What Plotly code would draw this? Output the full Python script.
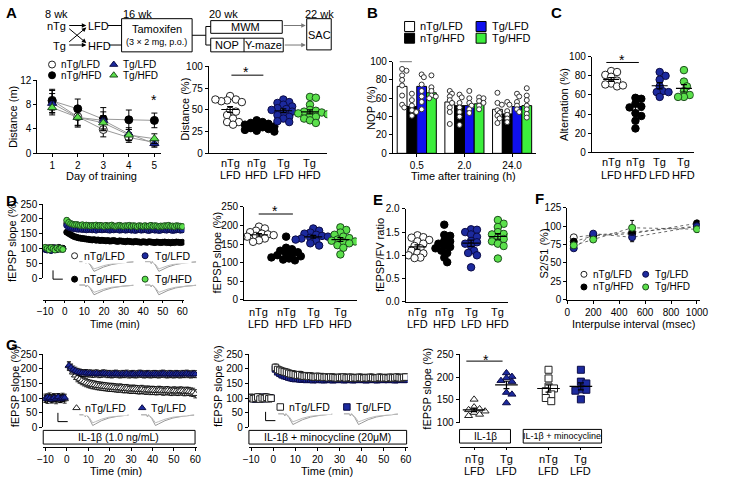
import numpy as np
import plotly.graph_objects as go

W, H = 734, 492
FONT = "Liberation Sans, Arial, sans-serif"

# ---------------- data ----------------
groups = ["nTg/LFD", "nTg/HFD", "Tg/LFD", "Tg/HFD"]
cat_top = ["nTg", "nTg", "Tg", "Tg"]
cat_bottom = ["LFD", "HFD", "LFD", "HFD"]

# A: water maze distance per day
days = [1, 2, 3, 4, 5]
mwm_ntg_lfd = [8.7, 6.0, 3.9, 2.6, 1.8]
mwm_ntg_hfd = [8.6, 7.3, 5.6, 5.5, 5.4]
mwm_tg_lfd = [8.2, 5.9, 5.4, 3.2, 1.6]
mwm_tg_hfd = [7.5, 5.9, 5.0, 3.0, 2.4]
mwm_err_ntg_lfd = [1.6, 1.4, 1.2, 0.8, 0.6]
mwm_err_ntg_hfd = [1.9, 1.6, 1.9, 1.6, 1.2]
mwm_err_tg_lfd = [1.6, 1.4, 1.4, 1.0, 0.6]
mwm_err_tg_hfd = [1.2, 1.6, 1.2, 0.9, 0.8]

# A: distance in target quadrant (%)
quad_ntg_lfd = [66, 62, 61, 60, 59, 62, 49, 48, 44, 40, 36, 36, 33]
quad_ntg_hfd = [38, 36, 35, 34, 33, 32, 31, 30, 29, 28, 27, 26, 25]
quad_tg_lfd = [62, 59, 58, 56, 54, 52, 51, 50, 48, 46, 44, 42, 40, 37, 36]
quad_tg_hfd = [65, 64, 56, 50, 49, 48, 47, 46, 45, 44, 42, 40, 38, 35]

# B: novel object preference
nop_times = ["0.5", "2.0", "24.0"]
nop_mean_ntg_lfd = [73, 56, 48]
nop_mean_ntg_hfd = [51, 52, 43]
nop_mean_tg_lfd = [73, 52, 51]
nop_mean_tg_hfd = [66, 54, 52]
nop_pts_ntg_lfd = [[92, 90, 85, 80, 74, 63, 53, 50], [68, 65, 62, 58, 55, 50, 45, 32], [66, 55, 53, 47, 44, 41, 38, 33]]
nop_pts_ntg_hfd = [[65, 58, 52, 47, 45, 41], [64, 61, 55, 50, 45, 40, 31], [56, 53, 46, 42, 38, 34]]
nop_pts_tg_lfd = [[86, 83, 75, 68, 62, 56, 48], [68, 60, 55, 52, 48, 44], [65, 62, 56, 52, 48, 45]]
nop_pts_tg_hfd = [[85, 72, 68, 63, 62, 60], [61, 60, 57, 55, 52, 48], [71, 63, 58, 52, 48, 43, 39]]

# C: Y-maze alternation
alt_ntg_lfd = [85, 84, 81, 79, 75, 72, 71, 69, 70]
alt_ntg_hfd = [57, 56, 51, 48, 47, 41, 38, 33, 25]
alt_tg_lfd = [84, 80, 76, 69, 64, 63, 63, 58]
alt_tg_hfd = [86, 74, 69, 64, 60, 58, 58]

# D: LTP time course (one value per minute)
t_min = list(range(-10, 0)) + list(range(1, 61))
ltp_ntg_lfd = [
    100, 98, 103, 101, 97, 102, 99, 104, 98, 100,
    185, 180, 178, 176, 175, 176, 174, 175, 173, 174,
    172, 173, 174, 172, 171, 173, 172, 170, 171, 172,
    173, 171, 170, 172, 171, 170, 169, 171, 170, 172,
    171, 169, 170, 171, 170, 169, 171, 170, 168, 170,
    171, 169, 170, 168, 169, 170, 171, 169, 168, 170,
    169, 170, 168, 169, 170, 171, 169, 168, 170, 169,
]
ltp_ntg_hfd = [
    99, 101, 97, 100, 103, 98, 100, 102, 99, 101,
    155, 151, 147, 143, 140, 138, 136, 135, 134, 133,
    132, 131, 130, 129, 130, 128, 129, 127, 128, 127,
    126, 127, 125, 126, 127, 125, 124, 126, 125, 124,
    123, 125, 124, 123, 122, 124, 123, 122, 121, 123,
    122, 121, 123, 122, 121, 120, 122, 121, 120, 121,
    122, 120, 121, 119, 121, 120, 122, 121, 120, 121,
]
ltp_tg_lfd = [
    97, 95, 100, 93, 98, 102, 96, 99, 101, 98,
    178, 172, 170, 168, 167, 166, 165, 166, 164, 165,
    163, 164, 165, 163, 164, 162, 165, 164, 163, 164,
    165, 163, 162, 164, 163, 165, 164, 162, 163, 164,
    162, 163, 164, 162, 163, 161, 163, 164, 162, 163,
    164, 162, 161, 163, 164, 162, 163, 161, 162, 164,
    163, 162, 164, 163, 161, 162, 163, 164, 162, 163,
]
ltp_tg_hfd = [
    104, 100, 96, 103, 99, 95, 102, 98, 101, 97,
    195, 188, 184, 182, 180, 181, 179, 178, 180, 177,
    179, 178, 176, 178, 177, 179, 176, 178, 177, 175,
    178, 176, 177, 179, 176, 175, 177, 178, 176, 175,
    177, 176, 178, 175, 177, 176, 174, 177, 176, 175,
    177, 175, 176, 178, 175, 177, 176, 174, 176, 175,
    177, 176, 178, 175, 176, 174, 177, 176, 175, 174,
]

# D: LTP magnitude per slice
ltp_bar_ntg_lfd = [197, 192, 186, 182, 178, 176, 174, 172, 170, 168, 165, 160, 156]
ltp_bar_ntg_hfd = [170, 140, 136, 132, 128, 124, 122, 120, 117, 114, 111, 108, 106]
ltp_bar_tg_lfd = [192, 186, 181, 178, 175, 172, 170, 167, 165, 162, 158, 152, 146]
ltp_bar_tg_hfd = [195, 188, 181, 175, 170, 166, 162, 159, 157, 155, 152, 147, 140, 122]

# E: fEPSP/FV ratio
fv_ntg_lfd = [1.43, 1.39, 1.38, 1.33, 1.30, 1.25, 1.20, 1.15, 1.10, 1.05, 1.04, 1.00, 0.95, 0.94]
fv_ntg_hfd = [1.66, 1.44, 1.42, 1.31, 1.30, 1.25, 1.20, 1.18, 1.15, 1.10, 1.05, 0.95, 0.85]
fv_tg_lfd = [1.56, 1.55, 1.50, 1.45, 1.40, 1.31, 1.28, 1.25, 1.20, 1.10, 1.05, 1.00, 0.74]
fv_tg_hfd = [1.76, 1.68, 1.61, 1.50, 1.46, 1.45, 1.40, 1.38, 1.35, 1.30, 1.25, 1.20, 0.93]

# F: paired-pulse ratio
ipi = [50, 200, 500, 1000]
ppr_ntg_lfd = [85, 88, 92, 100]
ppr_ntg_hfd = [79, 87, 90, 104]
ppr_tg_lfd = [70, 90, 85, 100]
ppr_tg_hfd = [74, 82, 98, 96]
ppr_err_ntg_lfd = [3, 3, 4, 3]
ppr_err_ntg_hfd = [4, 3, 5, 3]
ppr_err_tg_lfd = [3, 3, 6, 4]
ppr_err_tg_hfd = [4, 3, 10, 4]

# G: IL-1b time courses
il_ntg_lfd = [
    100, 96, 104, 98, 102, 95, 101, 99, 103, 97,
    210, 200, 188, 178, 170, 165, 160, 156, 153, 150,
    148, 146, 145, 143, 142, 141, 140, 139, 138, 137,
    137, 136, 135, 134, 135, 133, 132, 133, 131, 130,
    131, 130, 129, 128, 130, 128, 127, 128, 126, 127,
    126, 125, 127, 126, 124, 125, 126, 124, 123, 125,
    124, 123, 125, 124, 122, 124, 123, 121, 120, 115,
]
il_tg_lfd = [
    98, 103, 100, 96, 101, 99, 104, 97, 100, 102,
    212, 205, 198, 194, 190, 188, 186, 185, 186, 184,
    185, 183, 184, 185, 182, 183, 185, 184, 182, 183,
    181, 183, 184, 182, 181, 183, 182, 184, 181, 182,
    183, 181, 182, 184, 183, 181, 182, 183, 181, 182,
    183, 182, 181, 183, 184, 182, 181, 183, 182, 181,
    183, 182, 181, 183, 182, 184, 182, 181, 183, 182,
]
mino_ntg_lfd = [
    102, 98, 100, 104, 97, 101, 99, 103, 98, 100,
    205, 198, 195, 192, 190, 188, 185, 183, 182, 180,
    178, 180, 177, 175, 176, 174, 175, 173, 172, 174,
    172, 173, 171, 172, 170, 172, 171, 170, 169, 171,
    170, 172, 169, 170, 171, 168, 170, 169, 171, 170,
    168, 170, 169, 171, 170, 168, 169, 171, 170, 169,
    170, 168, 171, 169, 170, 172, 170, 169, 171, 172,
]
mino_tg_lfd = [
    99, 101, 97, 100, 102, 98, 103, 99, 101, 100,
    200, 190, 185, 180, 177, 175, 172, 170, 168, 167,
    168, 166, 165, 167, 164, 166, 165, 163, 165, 164,
    166, 164, 163, 165, 166, 164, 163, 165, 164, 166,
    165, 163, 164, 166, 165, 163, 164, 165, 166, 164,
    165, 163, 164, 166, 165, 164, 163, 165, 166, 164,
    165, 164, 166, 165, 163, 164, 166, 165, 164, 165,
]

# G: LTP magnitude with IL-1b / minocycline
il_bar_ntg = [151, 134, 130, 128, 125, 122, 118, 115]
il_bar_tg = [209, 201, 198, 192, 190, 166, 162, 143]
mino_bar_ntg = [216, 197, 179, 175, 169, 162, 154, 147]
mino_bar_tg = [216, 190, 186, 173, 172, 170, 151]
g_top = ["nTg", "Tg", "nTg", "Tg"]
g_bottom = ["LFD", "LFD", "LFD", "LFD"]

# ---------------- styles ----------------
BLUE = "#1c2a9e"
GREEN = "#5be04b"
STY = {
    "nTg/LFD": dict(color="white", line=dict(color="#222222", width=1)),
    "nTg/HFD": dict(color="black", line=dict(color="black", width=1)),
    "Tg/LFD": dict(color=BLUE, line=dict(color="#0b0b45", width=1)),
    "Tg/HFD": dict(color=GREEN, line=dict(color="#1d4d1d", width=1)),
}


def mk(name, size, symbol="circle"):
    d = dict(STY[name])
    d.update(size=size, symbol=symbol)
    return d


fig = go.Figure()
layout = {}
shapes = []
annots = []

AX = dict(showline=True, linecolor="black", linewidth=1, ticks="outside", ticklen=3,
          tickwidth=1, tickcolor="black", showgrid=False, zeroline=False,
          tickfont=dict(size=10, color="black"), fixedrange=True)


def add_axes(n, x0, x1, y0, y1, xr, yr, xkw=None, ykw=None, free_x=None):
    s = "" if n == 1 else str(n)
    xa = dict(AX, domain=[x0 / W, x1 / W], range=xr, anchor="y" + s)
    if free_x is not None:
        xa.update(anchor="free", position=1 - free_x / H)
    ya = dict(AX, domain=[1 - y1 / H, 1 - y0 / H], range=yr, anchor="x" + s)
    xa.update(xkw or {})
    ya.update(ykw or {})
    layout["xaxis" + s] = xa
    layout["yaxis" + s] = ya
    return "x" + s, "y" + s


def text(x, y, t, size=11, xref="x12", **kw):
    annots.append(dict(x=x, y=y, xref=xref, yref="y12", text=t, showarrow=False,
                       font=dict(size=size, color="black", family=FONT), **kw))


def cat_text(xa, pos, top, bottom, y1, y2, size=11):
    for p, a, b in zip(pos, top, bottom):
        text(p, y1, a, size=size, xref=xa)
        text(p, y2, b, size=size, xref=xa)


def seg(x0, y0, x1, y1, color="black", width=1, ref=("x12", "y12")):
    shapes.append(dict(type="line", xref=ref[0], yref=ref[1], x0=x0, y0=y0, x1=x1, y1=y1,
                       line=dict(color=color, width=width)))


def rect(x0, y0, x1, y1):
    shapes.append(dict(type="rect", xref="x12", yref="y12", x0=x0, y0=y0, x1=x1, y1=y1,
                       line=dict(color="black", width=1)))


def arrow(x0, y0, x1, y1, color="black"):
    annots.append(dict(x=x1, y=y1, ax=x0, ay=y0, xref="x12", yref="y12", axref="x12", ayref="y12",
                       text="", showarrow=True, arrowhead=2, arrowsize=0.9, arrowwidth=1, arrowcolor=color))


def star(xref, yref, x, y):
    annots.append(dict(x=x, y=y, xref=xref, yref=yref, text="*", showarrow=False, yshift=-3,
                       font=dict(size=14, color="black", family=FONT)))


def swarm(vals, ux, uy, d, gap=0.68, step=0.4):
    placed, offs = [], []
    steps = [0]
    for i in range(1, 20):
        steps += [i, -i]
    for v in vals:
        y = v * uy
        x = 0
        for k in steps:
            x = k * d * step
            if all((x - a) ** 2 + (y - b) ** 2 >= (gap * d) ** 2 for a, b in placed):
                break
        placed.append((x, y))
        offs.append(x / ux)
    return offs


def dots(xa, ya, sets, names, pos, ux, uy, d=7.5, half=0.33, symbols=None):
    for i, vals in enumerate(sets):
        sym = symbols[i] if symbols else "circle"
        offs = swarm(vals, ux, uy, d)
        fig.add_trace(go.Scatter(x=[pos[i] + o for o in offs], y=vals, mode="markers",
                                 marker=mk(names[i], d, sym), xaxis=xa, yaxis=ya))
        m = float(np.mean(vals))
        se = float(np.std(vals, ddof=1) / np.sqrt(len(vals)))
        fig.add_trace(go.Scatter(x=[pos[i] - half, pos[i] + half], y=[m, m], mode="lines",
                                 line=dict(color="black", width=1.2), xaxis=xa, yaxis=ya))
        fig.add_trace(go.Scatter(x=[pos[i]], y=[m], mode="markers", marker=dict(size=1, opacity=0),
                                 error_y=dict(type="data", array=[se], color="black", thickness=1.2, width=3),
                                 xaxis=xa, yaxis=ya))


def course(xa, ya, x, y, name, symbol, size, err, up=True, down=True, line=None):
    ey = dict(type="data", symmetric=False, array=[err if up else 0] * len(y),
              arrayminus=[err if down else 0] * len(y), color="black", thickness=0.8, width=2)
    fig.add_trace(go.Scatter(x=x, y=y, mode="markers+lines" if line else "markers",
                             line=line, marker=mk(name, size, symbol), error_y=ey, xaxis=xa, yaxis=ya))


def wave(x0, y0, w, h):
    fx = [0, 0.1, 0.12, 0.14, 0.2, 0.27, 0.33, 0.45, 0.6, 0.8, 1.0]
    fy = [0, 0, 0.2, 0, 0.35, 1.0, 0.85, 0.55, 0.3, 0.12, 0.03]
    for k, c in ((1.0, "#999999"), (0.75, "#bbbbbb")):
        fig.add_trace(go.Scatter(x=[x0 + a * w for a in fx], y=[y0 + b * h * k for b in fy],
                                 mode="lines", line=dict(color=c, width=1), xaxis="x12", yaxis="y12"))


def scalebar(x, y):
    seg(x, y - 9, x, y)
    seg(x, y, x + 10, y)


def legend_pt(x, y, name, symbol="circle", size=7):
    fig.add_trace(go.Scatter(x=[x], y=[y], mode="markers", marker=mk(name, size, symbol),
                             xaxis="x12", yaxis="y12"))


# ---------------- panel A: schematic ----------------
text(52, 8, "8 wk")
text(52, 21, "nTg")
text(55, 41, "Tg")
arrow(63, 20, 82, 20)
arrow(63, 40, 82, 40)
arrow(63, 22, 82, 38)
arrow(63, 38, 82, 22)
text(94, 21, "LFD")
text(95, 41, "HFD")
seg(104, 20, 118, 20)
seg(105, 40, 118, 40)
text(134, 8, "16 wk")
rect(118, 13, 190, 47)
text(154, 24, "Tamoxifen")
text(154, 37, "(3 × 2 mg, p.o.)", size=9)
seg(190, 30, 204, 30)
seg(204, 21, 204, 40)
seg(204, 21, 209, 21)
seg(204, 40, 209, 40)
text(222, 8, "20 wk")
rect(209, 15, 282, 28)
text(245, 22, "MWM")
rect(209, 33, 283, 47)
seg(243, 33, 243, 47)
text(226, 40, "NOP")
text(263, 40, "Y-maze")
arrow(282, 20, 306, 20, "#777777")
arrow(283, 40, 306, 40, "#777777")
text(320, 8, "22 wk")
rect(307, 13, 332, 45)
text(320, 30, "SAC")

# panel letters
for lx, ly, lt in [(6, 7, "A"), (374, 7, "B"), (562, 7, "C"), (6, 199, "D"),
                   (380, 198, "E"), (545, 197, "F"), (6, 347, "G")]:
    text(lx, ly, "<b>%s</b>" % lt, size=15)

# ---------------- panel A: water maze ----------------
xa, ya = add_axes(1, 32, 158, 76, 151, [0.42, 5.25], [0, 12],
                  xkw=dict(tickvals=days), ykw=dict(tickvals=[0, 4, 8, 12]))
gl = dict(color="#999999", width=1)
for vals, errs, name, sym in [(mwm_ntg_lfd, mwm_err_ntg_lfd, "nTg/LFD", "circle"),
                              (mwm_ntg_hfd, mwm_err_ntg_hfd, "nTg/HFD", "circle"),
                              (mwm_tg_lfd, mwm_err_tg_lfd, "Tg/LFD", "triangle-up"),
                              (mwm_tg_hfd, mwm_err_tg_hfd, "Tg/HFD", "triangle-up")]:
    fig.add_trace(go.Scatter(x=days, y=vals, mode="markers+lines", line=gl, marker=mk(name, 8, sym),
                             error_y=dict(type="data", array=errs, color="black", thickness=1, width=3),
                             xaxis=xa, yaxis=ya))
star(xa, ya, 5, 9.3)
legend_pt(47, 60, "nTg/LFD")
legend_pt(47, 71, "nTg/HFD")
legend_pt(110, 60, "Tg/LFD", "triangle-up")
legend_pt(110, 71, "Tg/HFD", "triangle-up")
text(54, 60, "nTg/LFD", size=10, xanchor="left")
text(54, 71, "nTg/HFD", size=10, xanchor="left")
text(117, 60, "Tg/LFD", size=10, xanchor="left")
text(117, 71, "Tg/HFD", size=10, xanchor="left")
text(7, 114, "Distance (m)", textangle=-90)
text(97, 174, "Day of training")

# ---------------- panel A: quadrant ----------------
CATX = dict(tickvals=[0, 1, 2, 3], showticklabels=False, ticks="")
xa, ya = add_axes(2, 207, 328, 62, 151, [-0.8, 3.65], [0, 100], xkw=CATX,
                  ykw=dict(tickvals=[0, 25, 50, 75, 100]))
dots(xa, ya, [quad_ntg_lfd, quad_ntg_hfd, quad_tg_lfd, quad_tg_hfd], groups, [0, 1, 2, 3], 27.2, 0.89)
seg(0.05, 90, 1.25, 90, ref=(xa, ya))
star(xa, ya, 0.6, 97)
cat_text(xa, [0, 1, 2, 3], cat_top, cat_bottom, 161, 173)
text(183, 106, "Distance (%)", textangle=-90)

# ---------------- panel B ----------------
xa, ya = add_axes(3, 395, 541, 57, 151, [-0.5, 2.5], [0, 100],
                  xkw=dict(tickvals=[0, 1, 2], ticktext=nop_times),
                  ykw=dict(tickvals=[0, 20, 40, 60, 80, 100]))
bw = 0.205
bar_fill = ["white", "black", "#1010ee", "#3cee3c"]
means = [nop_mean_ntg_lfd, nop_mean_ntg_hfd, nop_mean_tg_lfd, nop_mean_tg_hfd]
pts = [nop_pts_ntg_lfd, nop_pts_ntg_hfd, nop_pts_tg_lfd, nop_pts_tg_hfd]
for s in range(4):
    xs = [g + (s - 1.5) * bw for g in range(3)]
    fig.add_trace(go.Bar(x=xs, y=means[s], width=bw, marker=dict(color=bar_fill[s], line=dict(color="black", width=1)),
                         xaxis=xa, yaxis=ya))
for s in range(4):
    for g in range(3):
        vals = pts[s][g]
        offs = swarm(vals, 48.7, 0.94, 5, gap=0.6, step=0.45)
        fig.add_trace(go.Scatter(x=[g + (s - 1.5) * bw + o for o in offs], y=vals, mode="markers",
                                 marker=dict(size=5, color="white", line=dict(color="#333333", width=1)),
                                 xaxis=xa, yaxis=ya))
seg(-1.5 * bw - 0.05, 100, -0.5 * bw, 100, ref=(xa, ya))
star(xa, ya, -bw, 107)
text(373, 104, "NOP (%)", textangle=-90)
text(467, 174, "Time after training (h)")
for i, (lx, ly) in enumerate([(412, 21), (412, 33), (485, 21), (485, 33)]):
    fig.add_trace(go.Scatter(x=[lx], y=[ly], mode="markers", xaxis="x12", yaxis="y12",
                             marker=dict(symbol="square", size=10, color=bar_fill[i], line=dict(color="black", width=1))))
    text(lx + 9, ly, groups[i], xanchor="left")

# ---------------- panel C ----------------
xa, ya = add_axes(4, 598, 702, 52, 150, [-0.8, 3.4], [0, 100], xkw=CATX,
                  ykw=dict(tickvals=[0, 20, 40, 60, 80, 100]))
dots(xa, ya, [alt_ntg_lfd, alt_ntg_hfd, alt_tg_lfd, alt_tg_hfd], groups, [0, 1, 2, 3], 24.8, 0.98)
seg(-0.2, 94, 1.14, 94, ref=(xa, ya))
star(xa, ya, 0.45, 100)
cat_text(xa, [0, 1, 2, 3], cat_top, cat_bottom, 160, 173)
text(569, 101, "Alternation (%)", textangle=-90)

# ---------------- panel D: time course ----------------
xa, ya = add_axes(5, 38, 182, 203, 279, [-11, 61], [0, 250], free_x=301,
                  xkw=dict(tickvals=list(range(-10, 61, 10)), ticklen=2),
                  ykw=dict(tickvals=[0, 50, 100, 150, 200, 250]))
course(xa, ya, t_min, ltp_ntg_lfd, "nTg/LFD", "circle", 6, 8, down=False)
course(xa, ya, t_min, ltp_ntg_hfd, "nTg/HFD", "circle", 6, 5, up=False)
course(xa, ya, t_min, ltp_tg_lfd, "Tg/LFD", "circle", 6, 8, down=False)
course(xa, ya, t_min, ltp_tg_hfd, "Tg/HFD", "circle", 6, 8, down=False)
legend_pt(70, 256, "nTg/LFD", size=6)
legend_pt(142, 256, "Tg/LFD", size=6)
legend_pt(70, 280, "nTg/HFD", size=6)
legend_pt(142, 280, "Tg/HFD", size=6)
text(78, 256, "nTg/LFD", size=10.5, xanchor="left", bgcolor="white")
text(150, 256, "Tg/LFD", size=10.5, xanchor="left", bgcolor="white")
text(78, 280, "nTg/HFD", size=10.5, xanchor="left")
text(150, 280, "Tg/HFD", size=10.5, xanchor="left")
wave(75, 262, 55, 10)
wave(142, 262, 52, 10)
wave(75, 286, 55, 10)
wave(142, 286, 52, 10)
scalebar(48, 280)
text(6, 241, "fEPSP slope (%)", textangle=-90)
text(111, 326, "Time (min)", size=10.5)

# ---------------- panel D: magnitude ----------------
xa, ya = add_axes(6, 243, 358, 206, 301, [-0.55, 3.6], [0, 250], xkw=CATX,
                  ykw=dict(tickvals=[0, 50, 100, 150, 200, 250]))
dots(xa, ya, [ltp_bar_ntg_lfd, ltp_bar_ntg_hfd, ltp_bar_tg_lfd, ltp_bar_tg_hfd], groups, [0, 1, 2, 3], 27.7, 0.38)
seg(-0.01, 231, 1.25, 231, ref=(xa, ya))
star(xa, ya, 0.6, 246)
cat_text(xa, [0, 1, 2, 3], cat_top, cat_bottom, 314, 326)
text(215, 253, "fEPSP slope (%)", textangle=-90)

# ---------------- panel E ----------------
xa, ya = add_axes(7, 408, 512, 208, 303, [-0.44, 3.36], [0, 2], xkw=CATX,
                  ykw=dict(tickvals=[0, 0.5, 1.0, 1.5, 2.0], tickformat=".1f"))
dots(xa, ya, [fv_ntg_lfd, fv_ntg_hfd, fv_tg_lfd, fv_tg_hfd], groups, [0, 1, 2, 3], 27.4, 47.5)
cat_text(xa, [0, 1, 2, 3], cat_top, cat_bottom, 314, 326)
text(382, 255, "fEPSP/FV ratio", textangle=-90)

# ---------------- panel F ----------------
xa, ya = add_axes(8, 573, 708, 207, 301, [0, 1020], [0, 125],
                  xkw=dict(tickvals=[0, 200, 400, 600, 800, 1000]),
                  ykw=dict(tickvals=[0, 25, 50, 75, 100, 125]))
dl = dict(color="#444444", width=0.8, dash="dot")
for vals, errs, name in [(ppr_ntg_lfd, ppr_err_ntg_lfd, "nTg/LFD"), (ppr_ntg_hfd, ppr_err_ntg_hfd, "nTg/HFD"),
                         (ppr_tg_lfd, ppr_err_tg_lfd, "Tg/LFD"), (ppr_tg_hfd, ppr_err_tg_hfd, "Tg/HFD")]:
    fig.add_trace(go.Scatter(x=ipi, y=vals, mode="markers+lines", line=dl, marker=mk(name, 7),
                             error_y=dict(type="data", array=errs, color="black", thickness=1, width=2),
                             xaxis=xa, yaxis=ya))
legend_pt(590, 275, "nTg/LFD", size=6)
legend_pt(653, 275, "Tg/LFD", size=6)
legend_pt(590, 288, "nTg/HFD", size=6)
legend_pt(653, 288, "Tg/HFD", size=6)
text(597, 275, "nTg/LFD", size=10, xanchor="left")
text(660, 275, "Tg/LFD", size=10, xanchor="left")
text(597, 288, "nTg/HFD", size=10, xanchor="left")
text(660, 288, "Tg/HFD", size=10, xanchor="left")
text(549, 254, "S2/S1 (%)", textangle=-90)
text(641, 326, "Interpulse interval (msec)")

# ---------------- panel G: IL-1b ----------------
TT = dict(tickvals=list(range(-10, 61, 10)))
YT = dict(tickvals=[0, 50, 100, 150, 200, 250])
xa, ya = add_axes(9, 38, 195, 357, 432, [-11, 60.8], [0, 250], free_x=452, xkw=TT, ykw=YT)
course(xa, ya, t_min, il_ntg_lfd, "nTg/LFD", "triangle-up", 6.5, 14)
course(xa, ya, t_min, il_tg_lfd, "Tg/LFD", "triangle-up", 6.5, 12)
legend_pt(72, 412, "nTg/LFD", "triangle-up", 6.5)
legend_pt(139, 412, "Tg/LFD", "triangle-up", 6.5)
text(79, 412, "nTg/LFD", size=10.5, xanchor="left", bgcolor="white")
text(146, 412, "Tg/LFD", size=10.5, xanchor="left", bgcolor="white")
wave(75, 419, 50, 11)
wave(138, 419, 54, 11)
scalebar(53, 426)
rect(38, 435, 193, 449)
text(115, 442, "IL-1β (1.0 ng/mL)", size=10.5)
text(10, 390, "fEPSP slope (%)", textangle=-90)
text(112, 477, "Time (min)")

# ---------------- panel G: IL-1b + minocycline ----------------
xa, ya = add_axes(10, 248, 410, 357, 432, [-11, 60.8], [0, 250], free_x=452, xkw=TT, ykw=YT)
course(xa, ya, t_min, mino_tg_lfd, "Tg/LFD", "square", 6.5, 12, down=False)
course(xa, ya, t_min, mino_ntg_lfd, "nTg/LFD", "square", 6.5, 12, down=False)
legend_pt(280, 411, "nTg/LFD", "square", 6.5)
legend_pt(348, 411, "Tg/LFD", "square", 6.5)
text(287, 411, "nTg/LFD", size=10.5, xanchor="left", bgcolor="white")
text(355, 411, "Tg/LFD", size=10.5, xanchor="left", bgcolor="white")
wave(278, 418, 55, 11)
wave(345, 418, 55, 11)
scalebar(265, 425)
rect(248, 435, 409, 449)
text(328, 442, "IL-1β + minocycline (20μM)", size=10.5)
text(217, 390, "fEPSP slope (%)", textangle=-90)
text(328, 477, "Time (min)")

# ---------------- panel G: magnitude ----------------
gpos = [0, 1, 2.3, 3.3]
xa, ya = add_axes(11, 463, 608, 357, 427, [-0.45, 3.94], [100, 250], free_x=452,
                  xkw=dict(tickvals=gpos, showticklabels=False, ticklen=2),
                  ykw=dict(tickvals=[100, 150, 200, 250]))
dots(xa, ya, [il_bar_ntg, il_bar_tg, mino_bar_ntg, mino_bar_tg],
     ["nTg/LFD", "Tg/LFD", "nTg/LFD", "Tg/LFD"], gpos, 33, 0.467, d=7, half=0.35,
     symbols=["triangle-up", "triangle-up", "square", "square"])
seg(-0.24, 235, 0.88, 235, ref=(xa, ya))
star(xa, ya, 0.37, 243)
rect(463, 434, 515, 448)
rect(528, 434, 608, 448)
text(489, 441, "IL-1β", size=10)
text(568, 441, "IL-1β + minocycline", size=9)
cat_text(xa, gpos, g_top, g_bottom, 464, 477)
text(430, 392, "fEPSP slope (%)", textangle=-90)

# overlay axis in pixel units for annotations and decorations
layout["xaxis12"] = dict(domain=[0, 1], range=[0, W], visible=False, fixedrange=True, anchor="y12")
layout["yaxis12"] = dict(domain=[0, 1], range=[H, 0], visible=False, fixedrange=True, anchor="x12")

fig.update_layout(**layout)
fig.update_layout(width=W, height=H, margin=dict(l=0, r=0, t=0, b=0), showlegend=False,
                  plot_bgcolor="rgba(0,0,0,0)", paper_bgcolor="white", barmode="overlay",
                  hovermode=False, font=dict(family=FONT, color="black"),
                  shapes=shapes, annotations=annots)
fig.write_html("out.html", config={"displayModeBar": False},
               post_script="document.body.style.margin='0px';")
